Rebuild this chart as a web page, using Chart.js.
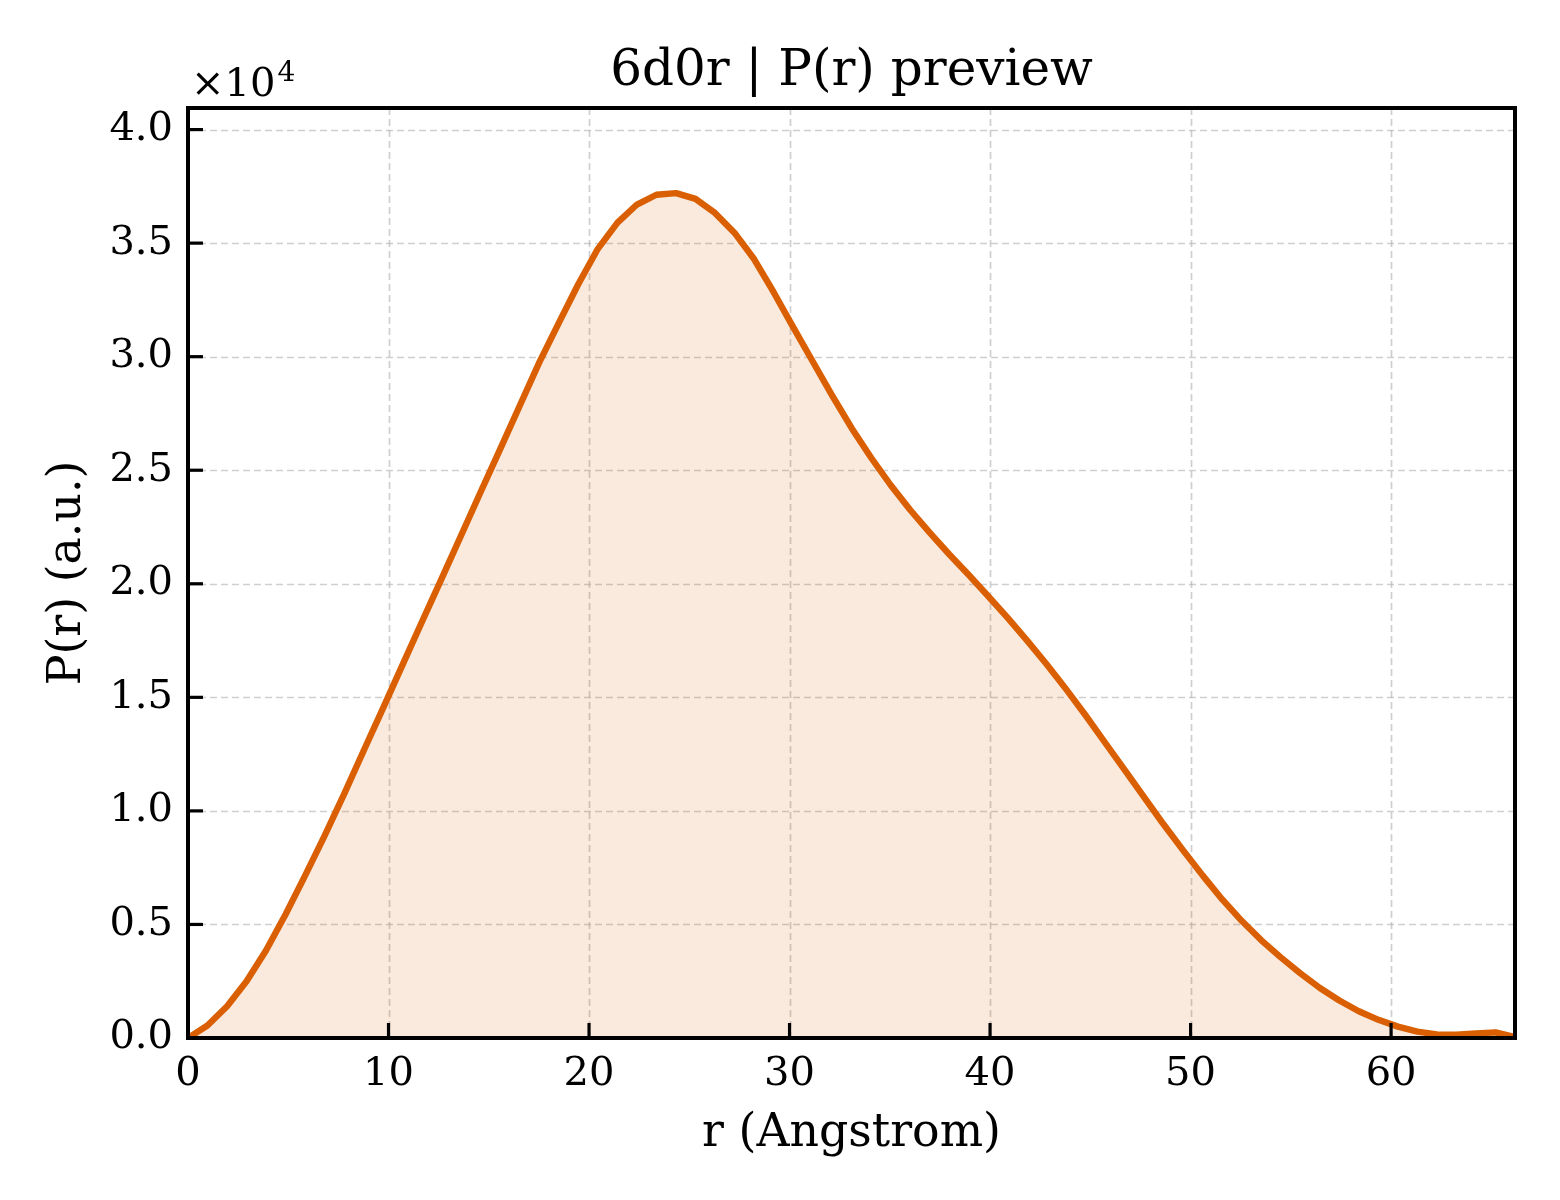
<!DOCTYPE html>
<html>
<head>
<meta charset="utf-8">
<title>6d0r | P(r) preview</title>
<script src="https://cdn.jsdelivr.net/npm/chart.js@4.4.1/dist/chart.umd.min.js"></script>
<style>
  html, body { margin: 0; padding: 0; background: #fff; }
  #wrap { width: 1560px; height: 1200px; }
</style>
</head>
<body>
<div id="wrap"><canvas id="prChart" width="1560" height="1200"></canvas></div>
<script>
// r in Angstrom, P(r) in a.u.
const rValues = [0.00, 0.97, 1.95, 2.92, 3.89, 4.87, 5.84, 6.81, 7.79, 8.76,
  9.74, 10.71, 11.68, 12.66, 13.63, 14.60, 15.58, 16.55, 17.52, 18.50,
  19.47, 20.44, 21.42, 22.39, 23.36, 24.34, 25.31, 26.28, 27.26, 28.23,
  29.20, 30.18, 31.15, 32.12, 33.10, 34.07, 35.04, 36.02, 36.99, 37.96,
  38.93, 39.91, 40.88, 41.85, 42.83, 43.80, 44.77, 45.74, 46.72, 47.69,
  48.66, 49.64, 50.61, 51.58, 52.56, 53.53, 54.50, 55.47, 56.45, 57.42,
  58.39, 59.37, 60.34, 61.31, 62.29, 63.26, 64.23, 65.21, 66.18];

const prValues = [0, 550, 1400, 2500, 3850, 5450, 7150, 8900, 10750, 12650,
  14550, 16450, 18350, 20250, 22150, 24050, 25950, 27850, 29750, 31500,
  33200, 34750, 35900, 36700, 37130, 37200, 36950, 36330, 35450, 34300,
  32850, 31300, 29800, 28300, 26850, 25550, 24350, 23250, 22250, 21300,
  20400, 19450, 18500, 17500, 16450, 15350, 14200, 13000, 11800, 10600,
  9400, 8250, 7150, 6100, 5150, 4300, 3550, 2850, 2200, 1650,
  1180, 800, 500, 280, 160, 150, 200, 250, 40];

const xTicks = [0, 10, 20, 30, 40, 50, 60];
const yTicks = [0, 5000, 10000, 15000, 20000, 25000, 30000, 35000, 40000];

const titleText = "6d0r | P(r) preview";
const xLabel = "r (Angstrom)";
const yLabel = "P(r) (a.u.)";

const serif = "'DejaVu Serif', serif";
const lineColor = "#d95f02";

const points = rValues.map((r, i) => ({ x: r, y: prValues[i] }));

// grid, spines, inward ticks and the text around the axes
const decorations = {
  id: "decorations",
  beforeDatasetsDraw(chart) {
    const ctx = chart.ctx;
    const a = chart.chartArea;
    const xs = chart.scales.x;
    const ys = chart.scales.y;
    ctx.save();
    ctx.strokeStyle = "rgba(175,175,175,0.6)";
    ctx.lineWidth = 1.7;
    ctx.setLineDash([7, 4]);
    xTicks.forEach((v) => {
      const px = Math.round(xs.getPixelForValue(v)) + 0.5;
      ctx.beginPath();
      ctx.moveTo(px, a.top);
      ctx.lineTo(px, a.bottom);
      ctx.stroke();
    });
    yTicks.forEach((v) => {
      const py = Math.round(ys.getPixelForValue(v)) + 0.5;
      ctx.beginPath();
      ctx.moveTo(a.left, py);
      ctx.lineTo(a.right, py);
      ctx.stroke();
    });
    ctx.restore();
  },
  afterDatasetsDraw(chart) {
    const ctx = chart.ctx;
    const a = chart.chartArea;
    const xs = chart.scales.x;
    const ys = chart.scales.y;
    ctx.save();
    // inward ticks
    ctx.strokeStyle = "#000";
    ctx.lineWidth = 3.2;
    xTicks.forEach((v) => {
      const px = xs.getPixelForValue(v);
      ctx.beginPath();
      ctx.moveTo(px, a.bottom);
      ctx.lineTo(px, a.bottom - 15);
      ctx.stroke();
    });
    yTicks.forEach((v) => {
      const py = ys.getPixelForValue(v);
      ctx.beginPath();
      ctx.moveTo(a.left, py);
      ctx.lineTo(a.left + 15, py);
      ctx.stroke();
    });
    // spines
    ctx.lineWidth = 4;
    ctx.strokeRect(a.left, a.top, a.right - a.left, a.bottom - a.top);

    // title and axis labels
    ctx.fillStyle = "#000";
    ctx.textAlign = "center";
    ctx.textBaseline = "alphabetic";
    const cx = (a.left + a.right) / 2;
    ctx.font = "50px " + serif;
    ctx.fillText(titleText, cx, 85);
    ctx.font = "45.8px " + serif;
    ctx.fillText(xLabel, cx, 1146);
    ctx.save();
    ctx.translate(80, (a.top + a.bottom) / 2);
    ctx.rotate(-Math.PI / 2);
    ctx.fillText(yLabel, 0, 0);
    ctx.restore();

    // offset text
    ctx.textAlign = "left";
    ctx.font = "40px " + serif;
    ctx.fillText("\u00d710", 191, 96);
    const w = ctx.measureText("\u00d710").width;
    ctx.font = "28px " + serif;
    ctx.fillText("4", 191 + w + 2, 81);
    ctx.restore();
  }
};

const config = {
  type: "line",
  data: {
    datasets: [
      {
        label: "P(r)",
        data: points,
        borderColor: lineColor,
        borderWidth: 6.4,
        backgroundColor: "rgba(217, 95, 2, 0.13)",
        fill: "origin",
        pointRadius: 0,
        tension: 0,
        borderJoinStyle: "round",
        borderCapStyle: "round"
      }
    ]
  },
  options: {
    responsive: false,
    animation: false,
    devicePixelRatio: 1,
    layout: { padding: { top: 108, right: 45, left: 0, bottom: 0 } },
    plugins: {
      legend: { display: false },
      title: { display: false },
      tooltip: { enabled: false }
    },
    scales: {
      x: {
        type: "linear",
        min: 0,
        max: 66.18,
        grid: { display: false, drawTicks: false },
        border: { display: false },
        afterBuildTicks: (scale) => {
          scale.ticks = xTicks.map((v) => ({ value: v }));
        },
        afterFit: (scale) => { scale.height = 162; },
        ticks: {
          padding: 13,
          color: "#000",
          maxRotation: 0,
          font: { family: serif, size: 40 },
          callback: (v) => String(v)
        }
      },
      y: {
        type: "linear",
        min: 0,
        max: 40950,
        grid: { display: false, drawTicks: false },
        border: { display: false },
        afterBuildTicks: (scale) => {
          scale.ticks = yTicks.map((v) => ({ value: v }));
        },
        afterFit: (scale) => { scale.width = 188; },
        ticks: {
          padding: 15,
          color: "#000",
          font: { family: serif, size: 40 },
          callback: (v) => (v / 10000).toFixed(1)
        }
      }
    }
  },
  plugins: [decorations]
};

new Chart(document.getElementById("prChart"), config);
</script>
</body>
</html>
